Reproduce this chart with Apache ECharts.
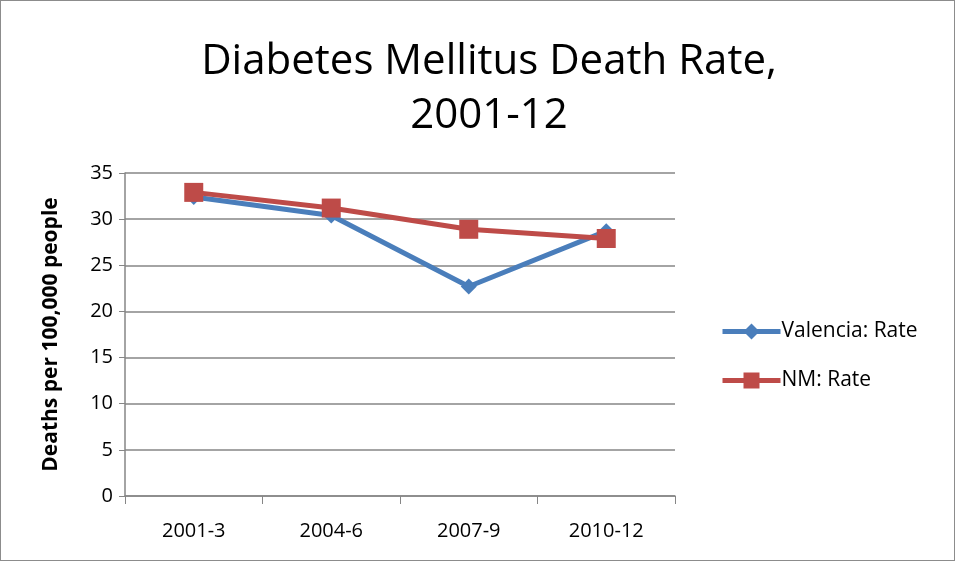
<!DOCTYPE html>
<html>
<head>
<meta charset="utf-8">
<script src="https://cdn.jsdelivr.net/npm/echarts@6/dist/echarts.min.js"></script>
<style>
  html, body { margin: 0; padding: 0; background: #fff; }
  #chart { width: 955px; height: 561px; box-sizing: border-box; border: 1px solid #8c8c8c; }
</style>
</head>
<body>
<div id="chart"></div>
<script>
// chart data
var categories = ['2001-3', '2004-6', '2007-9', '2010-12']
var valenciaRate = [32.4, 30.4, 22.7, 28.7]
var nmRate = [32.9, 31.2, 28.9, 27.9]
var yTicks = [0, 5, 10, 15, 20, 25, 30, 35]

var font = '"Open Sans", "Liberation Sans", sans-serif'
var chart = echarts.init(document.getElementById('chart'))

chart.setOption({
  animation: false,
  title: {
    text: 'Diabetes Mellitus Death Rate,\n2001-12',
    left: 483,
    top: 29,
    textAlign: 'center',
    textStyle: {
      fontFamily: font,
      fontWeight: 'normal',
      fontSize: 42,
      lineHeight: 54,
      color: '#000'
    }
  },
  grid: {
    left: 124,
    right: 279,
    top: 172,
    bottom: 64
  },
  legend: {
    orient: 'vertical',
    left: 714,
    top: 315,
    itemGap: 28,
    itemWidth: 58,
    itemHeight: 20,
    lineStyle: { width: 5 },
    textStyle: { fontFamily: font, fontSize: 21, color: '#000', padding: [0, 0, 0, -4] },
    data: ['Valencia: Rate', 'NM: Rate']
  },
  xAxis: {
    type: 'category',
    data: categories,
    boundaryGap: true,
    axisLine: { lineStyle: { color: '#868686', width: 1.5 } },
    axisTick: { show: true, length: 8, lineStyle: { color: '#868686' } },
    axisLabel: { fontFamily: font, fontSize: 20, color: '#000', margin: 25 }
  },
  yAxis: {
    type: 'value',
    min: yTicks[0],
    max: yTicks[yTicks.length - 1],
    interval: 5,
    name: 'Deaths per 100,000 people',
    nameLocation: 'middle',
    nameGap: 63,
    nameTextStyle: { fontFamily: font, fontSize: 21, fontWeight: 'bold', color: '#000' },
    axisLine: { show: true, lineStyle: { color: '#868686', width: 1.5 } },
    axisTick: { show: true, length: 6, lineStyle: { color: '#868686' } },
    axisLabel: { fontFamily: font, fontSize: 20, color: '#000', margin: 12 },
    splitLine: { lineStyle: { color: '#868686', width: 1.5 } }
  },
  series: [
    {
      name: 'Valencia: Rate',
      type: 'line',
      data: valenciaRate,
      symbol: 'diamond',
      symbolSize: 16,
      color: '#4a7ebb',
      lineStyle: { color: '#4a7ebb', width: 5 },
      itemStyle: { color: '#4a7ebb' }
    },
    {
      name: 'NM: Rate',
      type: 'line',
      data: nmRate,
      symbol: 'rect',
      symbolSize: 19,
      color: '#be4b48',
      lineStyle: { color: '#be4b48', width: 5 },
      itemStyle: { color: '#be4b48' }
    }
  ]
})
</script>
</body>
</html>
